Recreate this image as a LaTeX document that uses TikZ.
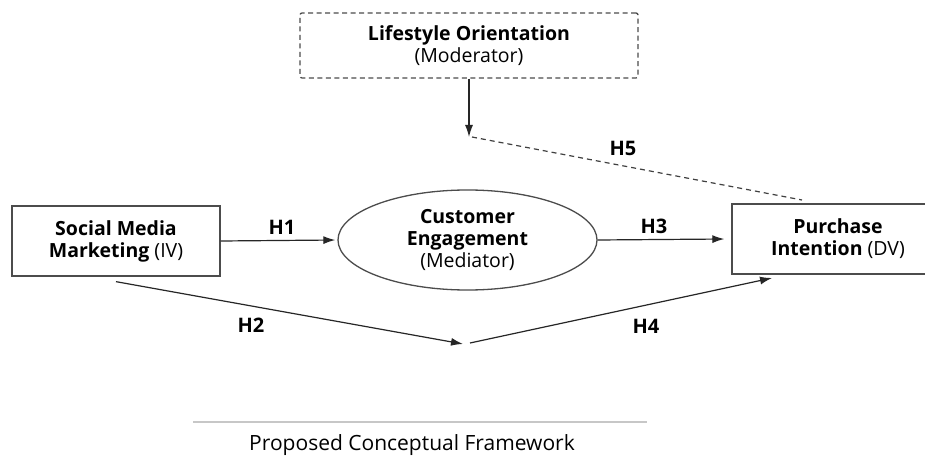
\documentclass[tikz,border=0pt]{standalone}
\usepackage{fontspec}
\setmainfont{Open Sans}
\usetikzlibrary{arrows.meta,shapes.geometric}
\tikzset{
  boxstyle/.style={draw=black!70, line width=1.3pt, inner sep=0pt, align=center, font=\fontsize{19.5}{22}\selectfont},
  modbox/.style={boxstyle, dashed, dash pattern=on 5pt off 3.5pt, rounded corners=2pt},
  ellstyle/.style={boxstyle, ellipse},
  conn/.style={draw=black!85, line width=1.2pt, -{Latex[length=12pt,width=8pt]}},
  dconn/.style={draw=black!75, line width=1.2pt, dashed, dash pattern=on 5pt off 4pt},
  hlabel/.style={font=\fontsize{20}{22}\selectfont\bfseries, inner sep=0pt}
}
\begin{document}
\begin{tikzpicture}[x=1pt,y=-1pt]
\fill[white] (0,0) rectangle (925,457);
\useasboundingbox (0,0) rectangle (925,457);

\node[modbox, minimum width=338pt, minimum height=65pt] (lo) at (469,45.5) {\textbf{Lifestyle Orientation}\\(Moderator)};
\node[boxstyle, minimum width=208pt, minimum height=70pt] (sm) at (116,241) {\textbf{Social Media}\\\textbf{Marketing} (IV)};
\node[ellstyle, minimum width=259pt, minimum height=100pt] (ce) at (467.5,240) {\textbf{Customer}\\\textbf{Engagement}\\(Mediator)};
\node[boxstyle, minimum width=212pt, minimum height=70pt] (pi) at (838,239) {\textbf{Purchase}\\\textbf{Intention} (DV)};

\coordinate (mod) at (469,137);
\coordinate (h5e) at (802,200);
\coordinate (h2s) at ([yshift=-5pt]sm.south);
\coordinate (h2e) at (463,344);
\coordinate (h4s) at (470,343);
\coordinate (h4e) at (772,278);

\draw[conn] (sm.east) -- ([xshift=-2pt]ce.west);
\draw[conn] (ce.east) -- ([xshift=-7pt]pi.west);
\draw[conn] (h2s) -- (h2e);
\draw[conn] (h4s) -- (h4e);
\draw[conn] (lo.south) -- (mod);
\draw[dconn] ([xshift=3pt]mod) -- (h5e);

\node[hlabel] (l1) at (282,227) {H1};
\node[hlabel] (l3) at (654,226) {H3};
\node[hlabel] (l2) at (251,325) {H2};
\node[hlabel] (l4) at (646,326) {H4};
\node[hlabel] (l5) at (623,148) {H5};

\coordinate (cl1) at (193,422);
\coordinate (cl2) at (647,422);
\draw[black!22, line width=1.6pt] (cl1) -- (cl2);
\node[font=\fontsize{21}{24}\selectfont, inner sep=0pt, anchor=base] (cap) at (412,450) {Proposed Conceptual Framework};
\end{tikzpicture}
\end{document}
